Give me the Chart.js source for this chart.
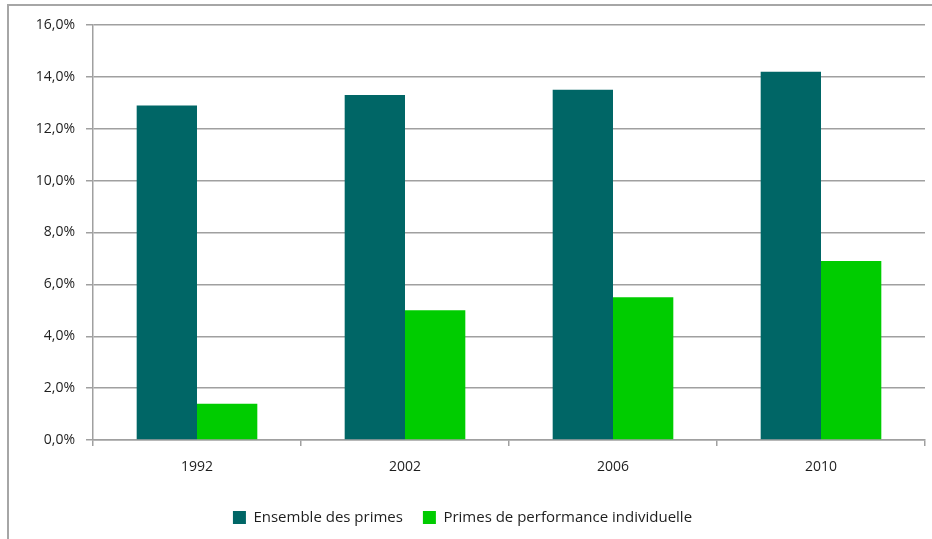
<!DOCTYPE html>
<html>
<head>
<meta charset="utf-8">
<script src="https://cdn.jsdelivr.net/npm/chart.js@4/dist/chart.umd.min.js"></script>
<style>
    html, body { margin: 0; padding: 0; background: #fff; }
    #frame {
        position: absolute; left: 7px; top: 4px; right: -2px; bottom: -2px;
        border-left: 2px solid #a6a6a6; border-top: 2px solid #a6a6a6;
    }
    #wrap { position: absolute; left: 0; top: 0; width: 932px; height: 539px; }
</style>
</head>
<body>
<div id="frame"></div>
<div id="wrap"><canvas id="primesChart"></canvas></div>
<script>
const years = ['1992', '2002', '2006', '2010'];
const ensemblePrimes = [12.9, 13.3, 13.5, 14.2];
const primesPerformance = [1.4, 5.0, 5.5, 6.9];
const seriesLabels = ['Ensemble des primes', 'Primes de performance individuelle'];
const yTicks = [0, 2, 4, 6, 8, 10, 12, 14, 16];

const gridGrey = '#a0a0a0';
const textColor = '#1e1e1e';
const fontFamily = "'Open Sans', sans-serif";

function frenchPercent(value) {
    return value.toFixed(1).replace('.', ',') + '%';
}

let ctx = document.getElementById('primesChart').getContext('2d');
let primesChart = new Chart(ctx, {
    type: 'bar',
    data: {
        labels: years,
        datasets: [
            {
                label: seriesLabels[0],
                data: ensemblePrimes,
                backgroundColor: '#006666',
                borderWidth: 0
            },
            {
                label: seriesLabels[1],
                data: primesPerformance,
                backgroundColor: '#00cc00',
                borderWidth: 0
            }
        ]
    },
    options: {
        responsive: true,
        maintainAspectRatio: false,
        animation: false,
        layout: {
            padding: { top: 25, right: 7, bottom: 4, left: 0 }
        },
        datasets: {
            bar: { categoryPercentage: 0.58, barPercentage: 1.0 }
        },
        plugins: {
            tooltip: { enabled: false },
            legend: {
                position: 'bottom',
                labels: {
                    font: { family: fontFamily, size: 15 },
                    color: textColor,
                    boxWidth: 13,
                    boxHeight: 13,
                    padding: 20
                }
            }
        },
        scales: {
            x: {
                grid: {
                    display: true,
                    drawOnChartArea: false,
                    drawTicks: true,
                    tickLength: 6,
                    color: gridGrey,
                    lineWidth: 1.5
                },
                border: { color: gridGrey, width: 1.5 },
                ticks: {
                    font: { family: fontFamily, size: 14 },
                    color: textColor,
                    padding: 13
                },
                afterFit: function (scale) {
                    scale.height = 50;
                }
            },
            y: {
                min: 0,
                max: 16,
                afterBuildTicks: function (scale) {
                    scale.ticks = yTicks.map(v => ({ value: v }));
                },
                grid: {
                    color: gridGrey,
                    lineWidth: 1.5,
                    tickLength: 7
                },
                border: { color: gridGrey, width: 1.5 },
                ticks: {
                    font: { family: fontFamily, size: 14 },
                    color: textColor,
                    padding: 11,
                    callback: function (value) {
                        return frenchPercent(value);
                    }
                },
                afterFit: function (scale) {
                    scale.width = 93;
                }
            }
        }
    }
});
</script>
</body>
</html>
